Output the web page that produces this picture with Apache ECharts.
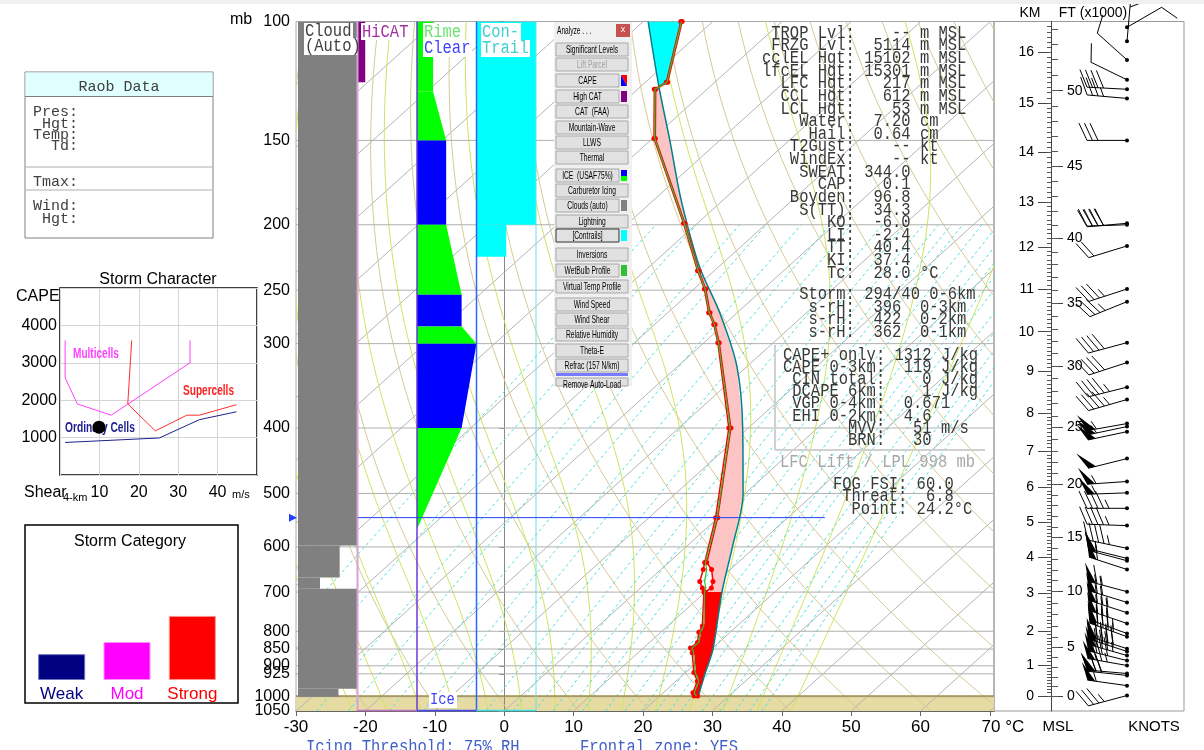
<!DOCTYPE html>
<html>
<head>
<meta charset="utf-8">
<title>Skew-T</title>
<script src="https://cdn.jsdelivr.net/npm/echarts@6.0.0/dist/echarts.min.js"></script>
<style>
  html, body { margin: 0; padding: 0; background: #fff; }
  #chart { width: 1204px; height: 750px; }
</style>
</head>
<body>
<div id="chart"></div>
<script>
const LN = Math.log;
const MONO = '"Liberation Mono", "DejaVu Sans Mono", monospace';
const SANS = '"Liberation Sans", Arial, sans-serif';

// axis labels
const presLabels = [100, 150, 200, 250, 300, 400, 500, 600, 700, 800, 850, 900, 925, 1000];
const bottomPresLabel = 1050;
const isobarP = [150, 200, 250, 300, 400, 500, 600, 700, 800, 850, 900, 925, 1000];
const tempTicks = [-30, -20, -10, 0, 10, 20, 30, 40, 50, 60, 70];

// sounding (mb / degC)
const sndP  = [998, 987, 949, 921, 861, 847, 831, 803, 786, 700, 690, 675, 648, 633, 543, 400, 299, 281, 270, 249, 234, 199, 149, 126, 123, 100];
const sndT  = [25.5, 24.6, 23.5, 21.6, 18.2, 17.2, 17.3, 15.9, 15.4, 10.0, 10.2, 9.4, 7.3, 5.5, -0.1, -12.5, -27.8, -31.3, -33.9, -38.3, -42.2, -51.8, -69.6, -77.4, -76.8, -84.4];
const sndTd = [25.0, 24.3, 23.1, 21.2, 17.8, 16.8, 16.9, 15.5, 15.0, 9.8, 8.9, 7.5, 6.1, 5.2, -0.4, -12.8, -28.0, -31.5, -34.1, -38.5, -42.4, -52.0, -69.8, -77.6, -77.0, -84.6];
const sndTw = [25.3, 24.5, 23.3, 21.4, 18.0, 17.0, 17.1, 15.7, 15.2, 9.9, 9.4, 8.2, 6.6, 5.3, -0.2, -12.6, -27.9, -31.4, -34.0, -38.4, -42.3, -51.9, -69.7, -77.5, -76.9, -84.5];

// lifted parcel
const parcelP = [998, 925, 850, 700, 600, 500, 400, 324, 270, 231, 184, 150, 125, 100];
const parcelT = [25.6, 23.0, 20.2, 12.4, 6.7, -0.3, -10.8, -21.5, -32.5, -42.7, -56.0, -67.2, -77.3, -89.3];
const surfP = 998, lowCapeTop = 700, elP = 126, frzP = 543;

// side columns (mb top / bottom, width fraction)
const cloudTop = [100, 597, 666, 692, 973];
const cloudBot = [597, 666, 692, 973, 1000];
const cloudFrac = [1, 0.7, 0.37, 1, 0.68];
const hicatTop = [100], hicatBot = [123], hicatFrac = [0.13];
const iceTop  = [100, 127, 150, 200, 254, 283, 300, 400];
const iceBot  = [127, 150, 200, 254, 283, 300, 400, 565];
const iceWTop = [0.27, 0.27, 0.49, 0.49, 0.75, 0.75, 1.0, 0.75];
const iceWBot = [0.27, 0.49, 0.49, 0.75, 0.75, 1.0, 0.75, 0.0];
const iceType = ['rime', 'rime', 'clear', 'rime', 'clear', 'rime', 'clear', 'rime'];
const conTop = [100, 200], conBot = [200, 223], conFrac = [1, 0.5];

// winds
const windP   = [996, 963, 930, 924, 899, 884, 869, 857, 849, 815, 806, 779, 751, 725, 699, 648, 629, 624, 603, 558, 526, 499, 480, 444, 405, 398, 394, 363, 348, 320, 299, 260, 249, 215, 200, 199, 150, 130, 126, 122, 114, 107, 102];
const windDir = [255, 278, 276, 275, 280, 284, 286, 288, 288, 290, 290, 289, 288, 287, 285, 288, 285, 284, 282, 272, 270, 268, 266, 256, 258, 258, 260, 254, 256, 252, 255, 248, 252, 253, 268, 265, 270, 275, 273, 296, 312, 5, 60];
const windSpd = [35, 55, 70, 70, 75, 80, 85, 90, 90, 85, 85, 80, 75, 70, 65, 60, 55, 55, 45, 45, 45, 55, 55, 50, 50, 55, 55, 45, 45, 40, 40, 35, 35, 20, 40, 40, 30, 35, 40, 10, 10, 5, 10];

// height scale (km MSL vs mb)
const kmVals = [0, 1, 2, 3, 4, 5, 6, 7, 8, 9, 10, 11, 12, 13, 14, 15, 16];
const kmPres = [997, 897, 800, 703, 622, 552, 490, 433, 380, 330, 288, 249, 216, 185, 156, 132, 111];

// storm character
const multiShear = [1.3, 1.3, 4.4, 13, 33, 33];
const multiCape  = [3600, 2600, 1900, 1600, 3000, 3600];
const superShear = [18.2, 17.2, 24.2, 32.2, 35.4, 44.8];
const superCape  = [3600, 1900, 1180, 1600, 1600, 1880];
const ordShear = [1.3, 25.2, 35.4, 44.8];
const ordCape  = [870, 990, 1480, 1690];
const stormShear = 9.9, stormCape = 1280;

// storm category
const catNames = ['Weak', 'Mod', 'Strong'];
const catValues = [1.0, 1.47, 2.48];

// ---------------------------------------------------------------
const P_BOT = 1050, P_TOP = 100, SKEW = 46.8;
const skewX = (t, p) => t + SKEW * LN(P_BOT / p);
const pt = (t, p) => [skewX(t, p), LN(p)];
const X_MAX = 70.58;

function levels(pHi, pLo, n) {
  const out = [];
  for (let i = 0; i <= n; i++) out.push(Math.exp(LN(pHi) + (LN(pLo) - LN(pHi)) * i / n));
  return out;
}
function lapse(tk, p) {
  const tc = tk - 273.15;
  const e = 6.112 * Math.exp(17.67 * tc / (tc + 243.5));
  const rs = 0.622 * e / (p - e);
  return (287.04 * tk + 2.501e6 * rs) / (1005.7 + 2.501e6 * 2.501e6 * rs * 0.622 / (287.04 * tk * tk));
}
function moistCurve(t0) {
  const up = [pt(t0, 1000)];
  let tk = t0 + 273.15, lp = LN(1000);
  const h = -0.02;
  while (lp > LN(P_TOP)) {
    const k1 = lapse(tk, Math.exp(lp));
    const k2 = lapse(tk + k1 * h / 2, Math.exp(lp + h / 2));
    tk += k2 * h; lp += h;
    up.push(pt(tk - 273.15, Math.exp(lp)));
  }
  const dn = [];
  tk = t0 + 273.15; lp = LN(1000);
  const h2 = (LN(P_BOT) - LN(1000)) / 2;
  for (let i = 0; i < 2; i++) {
    const k1 = lapse(tk, Math.exp(lp));
    const k2 = lapse(tk + k1 * h2 / 2, Math.exp(lp + h2 / 2));
    tk += k2 * h2; lp += h2;
    dn.push(pt(tk - 273.15, Math.exp(lp)));
  }
  return dn.reverse().concat(up);
}
function mixCurve(w) {
  return levels(P_BOT, 200, 24).map(p => {
    const r = w / 1000, e = r * p / (0.622 + r), a = LN(e / 6.112);
    return pt(243.5 * a / (17.67 - a), p);
  });
}

const isotherms = [], dryAd = [], moistAd = [], mixLines = [];
for (let t = -150; t <= 70; t += 10) isotherms.push([pt(t, P_BOT), pt(t, P_TOP)]);
for (let th = 250; th <= 470; th += 10) dryAd.push(levels(P_BOT, P_TOP, 40).map(p => pt(th * Math.pow(p / 1000, 0.2857) - 273.15, p)));
for (let t = -25; t <= 40; t += 5) moistAd.push(moistCurve(t));
[0.1, 0.2, 0.4, 0.6, 1, 1.5, 2, 3, 4, 5, 6, 7, 8, 10, 12, 14, 16, 18, 20, 24, 28, 32, 36, 40].forEach(w => mixLines.push(mixCurve(w)));
const isobarLines = isobarP.map(p => [[-30, LN(p)], [X_MAX, LN(p)]]);

function curveSeries(curves, style, z) {
  return {
    type: 'custom', xAxisIndex: 0, yAxisIndex: 0, z, silent: true, clip: true,
    data: curves.map((c, i) => [i, 0]),
    renderItem: (params, api) => ({
      type: 'polyline',
      shape: { points: curves[params.dataIndex].map(q => api.coord(q)) },
      style: Object.assign({ fill: 'none' }, style)
    })
  };
}

// profile value at pressure (linear in ln p)
function profileAt(pArr, tArr, p) {
  for (let i = 0; i < pArr.length - 1; i++) {
    if (p <= pArr[i] && p >= pArr[i + 1]) {
      const f = (LN(p) - LN(pArr[i])) / (LN(pArr[i + 1]) - LN(pArr[i]));
      return tArr[i] + f * (tArr[i + 1] - tArr[i]);
    }
  }
  return tArr[tArr.length - 1];
}
function segment(pArr, tArr, pHi, pLo) {
  const out = [pt(profileAt(pArr, tArr, pHi), pHi)];
  pArr.forEach((p, i) => { if (p < pHi && p > pLo) out.push(pt(tArr[i], p)); });
  out.push(pt(profileAt(pArr, tArr, pLo), pLo));
  return out;
}
function areaBetween(pHi, pLo) {
  return segment(sndP, sndT, pHi, pLo).concat(segment(parcelP, parcelT, pHi, pLo).reverse());
}
function polySeries(points, fill, z) {
  return {
    type: 'custom', xAxisIndex: 0, yAxisIndex: 0, z, silent: true, clip: true,
    data: [[0, 0]],
    renderItem: (params, api) => ({ type: 'polygon', shape: { points: points.map(q => api.coord(q)) }, style: { fill } })
  };
}
function bandSeries(col, tops, bots, wTop, wBot, colors, z) {
  return {
    type: 'custom', xAxisIndex: 1, yAxisIndex: 1, z, silent: true, clip: true,
    data: tops.map((t, i) => [col, LN(t)]),
    renderItem: (params, api) => {
      const i = params.dataIndex;
      const pts = [[col, LN(tops[i])], [col + wTop[i], LN(tops[i])], [col + wBot[i], LN(bots[i])], [col, LN(bots[i])]].map(q => api.coord(q));
      return { type: 'polygon', shape: { points: pts }, style: { fill: Array.isArray(colors) ? colors[i] : colors } };
    }
  };
}

// height scale helpers
function kmToLn(km) {
  const i = Math.min(Math.floor(km), kmVals.length - 2);
  const f = km - kmVals[i];
  return LN(kmPres[i]) + f * (LN(kmPres[i + 1]) - LN(kmPres[i]));
}
const kmMajorLn = kmVals.map(kmToLn);
const kmMinorLn = [];
for (let k = 0; k <= 165; k++) kmMinorLn.push(kmToLn(k / 10));
const ftMinorLn = [];
for (let f = 0; f <= 54; f++) ftMinorLn.push(kmToLn(f * 0.3048));
const ft5 = [0, 5, 10, 15, 20, 25, 30, 35, 40, 45, 50];
const ft5Ln = ft5.map(f => kmToLn(f * 0.3048));
const lookup = (arr, labels) => v => {
  const i = arr.findIndex(q => Math.abs(q - v) < 1e-6);
  return i < 0 ? '' : String(labels[i]);
};

// ---------------------------------------------------------------
// graphic (panels, text)
const G = [];
function txt(x, y, s, font, fill, align, sx, z) {
  G.push({ type: 'text', x, y, scaleX: sx || 1, z: z || 101, silent: true,
    style: { text: s, font, fill, textAlign: align || 'left', textVerticalAlign: 'middle' } });
}
function rect(x, y, w, h, fill, stroke, lw, z) {
  G.push({ type: 'rect', z: z || 100, silent: true, shape: { x, y, width: w, height: h },
    style: { fill: fill || 'none', stroke: stroke || 'none', lineWidth: lw || 1 } });
}
function seg(x1, y1, x2, y2, stroke, lw, z) {
  G.push({ type: 'line', z: z || 100, silent: true, shape: { x1, y1, x2, y2 }, style: { stroke, lineWidth: lw || 1 } });
}
function poly(points, fill, z) {
  G.push({ type: 'polygon', z: z || 100, silent: true, shape: { points }, style: { fill } });
}

rect(0, 0, 1204, 4, '#f0f0f0', null, 1, 90);

// Raob data box
rect(25, 72, 188, 166, '#fff', '#808080', 1, 99);
rect(25.5, 72.5, 187, 24, '#e0ffff', null, 1, 99);
seg(25, 96.5, 213, 96.5, '#808080', 1);
seg(26, 167, 212, 167, '#c8c8c8', 1.5);
seg(26, 190, 212, 190, '#c8c8c8', 1.5);
const raobFont = '15px ' + MONO;
txt(119, 87, 'Raob Data', raobFont, '#404040', 'center');
[['Pres:', 112], [' Hgt:', 124], ['Temp:', 135], ['  Td:', 146], ['Tmax:', 182], ['Wind:', 206], [' Hgt:', 219]]
  .forEach(([s, y]) => txt(33, y, s, raobFont, '#404040'));

// storm character labels
txt(158, 280, 'Storm Character', '16px ' + SANS, '#000', 'center');
txt(16, 297, 'CAPE', '16px ' + SANS, '#000');
txt(24, 493, 'Shear', '16px ' + SANS, '#000');
txt(63, 498, '4-km', '11px ' + SANS, '#000');
txt(232, 495, 'm/s', '11px ' + SANS, '#000');
txt(73, 354, 'Multicells', 'bold 14px ' + SANS, '#ff40ff', 'left', 0.72, 2);
txt(183, 391, 'Supercells', 'bold 14px ' + SANS, '#ff2020', 'left', 0.72, 2);
txt(65, 428, 'Ordinary Cells', 'bold 14px ' + SANS, '#202090', 'left', 0.73, 2);

// storm category box
rect(25, 525, 213, 178, 'none', '#000', 1.5, 99);
txt(130, 542, 'Storm Category', '16px ' + SANS, '#000', 'center');

// main diagram headings
txt(241, 20, 'mb', '16px ' + SANS, '#000', 'center');
txt(290, 711, String(bottomPresLabel), '16px ' + SANS, '#000', 'right');
const colFont = '18px ' + MONO;
rect(304, 23, 49, 15, '#fff', null, 1, 100);
rect(304, 38, 53, 17, '#fff', null, 1, 100);
txt(305, 31, 'Cloud', colFont, '#404040', 'left', 0.86);
txt(305, 46, '(Auto)', colFont, '#404040', 'left', 0.86);
rect(361, 23, 50, 17, '#fff', null, 1, 100);
txt(362, 32, 'HiCAT', colFont, '#a030a0', 'left', 0.86);
rect(423, 23, 40, 17, '#fff', null, 1, 100);
rect(423, 40, 49, 17, '#fff', null, 1, 100);
txt(424, 32, 'Rime', colFont, '#70e070', 'left', 0.86);
txt(424, 48, 'Clear', colFont, '#4040ff', 'left', 0.86);
rect(481, 23, 40, 17, '#fff', null, 1, 100);
rect(481, 40, 49, 17, '#fff', null, 1, 100);
txt(482, 32, 'Con-', colFont, '#40d0d0', 'left', 0.86);
txt(482, 48, 'Trail', colFont, '#40d0d0', 'left', 0.86);
rect(429, 692, 28, 16, '#fff', null, 1, 100);
txt(430, 700, 'Ice', '16px ' + MONO, '#4040ff', 'left', 0.86);

// analyze panel
rect(554, 22, 78, 364, '#f0f0f0', null, 1, 98);
txt(557, 31, 'Analyze . . .', '11px ' + SANS, '#000', 'left', 0.6);
rect(616, 24, 14, 13, '#c75050', null, 1, 99);
txt(623, 30, 'x', '9px ' + SANS, '#fff', 'center');
const buttons = [
  ['Significant Levels', 43], ['Lift Parcel', 58, null, true], ['CAPE', 74, 'cape'], ['High CAT', 90, '#800080'],
  ['CAT  (FAA)', 105], ['Mountain-Wave', 121], ['LLWS', 136], ['Thermal', 151], ['ICE  (USAF75%)', 169, 'ice'],
  ['Carburetor Icing', 184], ['Clouds (auto)', 199, '#808080'], ['Lightning', 215], ['[Contrails]', 229, '#00ffff', false, true],
  ['Inversions', 248], ['WetBulb Profile', 264, '#30c030'], ['Virtual Temp Profile', 280], ['Wind Speed', 298],
  ['Wind Shear', 313], ['Relative Humidity', 328], ['Theta-E', 344], ['Refrac (157 N/km)', 359]
];
buttons.forEach(([label, y, sw, dis, pressed]) => {
  const w = sw ? 63 : 72;
  rect(556, y, w, 13, '#e1e1e1', pressed ? '#303030' : '#a8a8a8', 1, 99);
  txt(556 + w / 2, y + 6.5, label, '11px ' + SANS, dis ? '#a0a0a0' : '#000', 'center', 0.61);
  if (sw === 'cape') {
    poly([[621, y + 1], [627, y + 1], [627, y + 12]], '#ff0000', 99);
    poly([[621, y + 1], [627, y + 12], [621, y + 12]], '#0000ff', 99);
  } else if (sw === 'ice') {
    rect(621, y + 1, 6, 6, '#0000ff', null, 1, 99);
    rect(621, y + 7, 6, 5, '#00ff00', null, 1, 99);
  } else if (sw) {
    rect(621, y + 1, 6, 11, sw, null, 1, 99);
  }
});
rect(556, 373, 72, 3, '#7a7aff', null, 1, 99);
rect(556, 378, 72, 8, '#e1e1e1', '#a8a8a8', 1, 99);
txt(592, 385, 'Remove Auto-Load', '11px ' + SANS, '#000', 'center', 0.61);

// index text block
const blockFont = '18px ' + MONO, blockFill = '#383838';
const block1 = [
  ['TROP Lvl', '--', 'm MSL'], ['FRZG Lvl', '5114', 'm MSL'], ['cclEL Hgt', '15102', 'm MSL'], ['lfcEL Hgt', '15301', 'm MSL'],
  ['LFC Hgt', '217', 'm MSL'], ['CCL Hgt', '612', 'm MSL'], ['LCL Hgt', '53', 'm MSL'], ['Water', '7.20', 'cm'],
  ['Hail', '0.64', 'cm'], ['T2Gust', '--', 'kt'], ['WindEx', '--', 'kt'], ['SWEAT', '344.0', ''], ['CAP', '0.1', ''],
  ['Boyden', '96.8', ''], ['S(TT)', '34.3', ''], ['KO', '-6.0', ''], ['LI', '-2.4', ''], ['TT', '40.4', ''],
  ['KI', '37.4', ''], ['Tc', '28.0', '°C']
];
block1.forEach(([l, v, u], i) => txt(762, 33 + i * 12.63, l.padStart(9) + ': ' + v.padStart(5) + (u ? ' ' + u : ''), blockFont, blockFill, 'left', 0.86));
const block2 = [['Storm', '294/40 0-6km'], ['s-rH', ' 396  0-3km'], ['s-rH', ' 422  0-2km'], ['s-rH', ' 362  0-1km']];
block2.forEach(([l, v], i) => txt(762, 294 + i * 12.8, l.padStart(9) + ': ' + v, blockFont, blockFill, 'left', 0.86));
seg(775, 345, 775, 450, '#d0d0d0', 2);
seg(775, 450, 985, 450, '#d0d0d0', 2);
const block3 = [['CAPE+ only', '1312', 'J/kg'], ['CAPE 0-3km', '119', 'J/kg'], ['CIN total', '0', 'J/kg'], ['DCAPE 6km', '1', 'J/kg'],
  ['VGP 0-4km', ' 0.671', ''], ['EHI 0-2km', ' 4.6', ''], ['MVV', '51', 'm/s'], ['BRN', '30', '']];
block3.forEach(([l, v, u], i) => txt(783, 355 + i * 12.15, l.padStart(10) + ': ' + v.padStart(4) + (u ? ' ' + u : ''), blockFont, blockFill, 'left', 0.86));
txt(780, 462, 'LFC Lift / LPL 998 mb', blockFont, '#a8a8a8', 'left', 0.86);
const block4 = [['FOG FSI', '60.0'], ['Threat', ' 6.8'], ['Point', '24.2°C']];
block4.forEach(([l, v], i) => txt(833, 484 + i * 12.5, l.padStart(7) + ': ' + v, blockFont, blockFill, 'left', 0.86));

// height panel headings
txt(1030, 13, 'KM', '14px ' + SANS, '#000', 'center');
txt(1093, 13, 'FT (x1000)', '14px ' + SANS, '#000', 'center');
txt(1058, 727, 'MSL', '15px ' + SANS, '#000', 'center');
txt(1154, 727, 'KNOTS', '15px ' + SANS, '#000', 'center');

// bottom lines (cut off by the window edge)
txt(306, 747, 'Icing Threshold: 75% RH', blockFont, '#4060c8', 'left', 0.86);
txt(580, 747, 'Frontal zone: YES', blockFont, '#4060c8', 'left', 0.86);

// ---------------------------------------------------------------
const lnAxis = (grid, extra) => Object.assign({
  gridIndex: grid, type: 'value', inverse: true, min: LN(P_TOP), max: LN(P_BOT), splitLine: { show: false }
}, extra);

const option = {
  animation: false,
  backgroundColor: '#fff',
  textStyle: { fontFamily: SANS },
  grid: [
    { left: 296, top: 21.5, width: 698, height: 689.5, show: true, borderColor: '#a8a8a8', borderWidth: 1 },
    { left: 298, top: 21.5, width: 238, height: 689.5, show: false },
    { left: 994, top: 21.5, width: 190, height: 689.5, show: true, borderColor: '#999', borderWidth: 1 },
    { left: 60, top: 288, width: 197, height: 187, show: true, borderColor: '#000', borderWidth: 1.5 },
    { left: 29, top: 525, width: 196, height: 155, show: false }
  ],
  xAxis: [
    { gridIndex: 0, type: 'value', min: -30, max: X_MAX, splitLine: { show: false },
      axisLine: { show: true, lineStyle: { color: '#666' } },
      axisTick: { customValues: tempTicks, length: 5, lineStyle: { color: '#666' } },
      axisLabel: { customValues: tempTicks, fontSize: 17, color: '#000', margin: 8, showMinLabel: true, showMaxLabel: true,
        formatter: v => v === 70 ? '{u|70 °C}' : String(v),
        rich: { u: { fontSize: 17, color: '#000', padding: [0, 0, 0, 26] } } } },
    { gridIndex: 1, type: 'value', min: 0, max: 4, show: false },
    { gridIndex: 2, type: 'value', min: 0, max: 1, show: false },
    { gridIndex: 3, type: 'value', min: 0, max: 50, interval: 10,
      axisLine: { show: false }, axisTick: { show: false },
      axisLabel: { customValues: [10, 20, 30, 40], fontSize: 16, color: '#000', margin: 10, formatter: v => String(v) },
      splitLine: { show: true, lineStyle: { color: '#d4d4d4' } } },
    { gridIndex: 4, type: 'category', data: catNames,
      axisLine: { show: false }, axisTick: { show: false },
      axisLabel: { interval: 0, fontSize: 17, margin: 6, formatter: v => '{' + v + '|' + v + '}',
        rich: { Weak: { color: '#000080', fontSize: 17 }, Mod: { color: '#ff00ff', fontSize: 17 }, Strong: { color: '#ff0000', fontSize: 17 } } } }
  ],
  yAxis: [
    lnAxis(0, { axisLine: { show: true, lineStyle: { color: '#888' } },
      axisTick: { customValues: presLabels.concat([bottomPresLabel]).map(LN), length: 5, lineStyle: { color: '#888' } },
      axisLabel: { customValues: presLabels.map(LN), fontSize: 16, color: '#000', margin: 6, showMinLabel: true, showMaxLabel: true,
        formatter: v => String(Math.round(Math.exp(v))) } }),
    lnAxis(1, { show: false }),
    lnAxis(2, { position: 'left', offset: -57, axisLine: { show: true, lineStyle: { color: '#444' } },
      axisTick: { customValues: kmMajorLn, length: 13, lineStyle: { color: '#444' } },
      axisLabel: { customValues: kmMajorLn, formatter: lookup(kmMajorLn, kmVals), fontSize: 14, color: '#000', margin: 17 } }),
    lnAxis(2, { position: 'left', offset: -57, axisLine: { show: false },
      axisTick: { customValues: kmMinorLn, length: 4, lineStyle: { color: '#555' } }, axisLabel: { show: false } }),
    lnAxis(2, { position: 'right', offset: -133, axisLine: { show: false },
      axisTick: { customValues: ft5Ln, length: 12, lineStyle: { color: '#444' } },
      axisLabel: { customValues: ft5Ln, formatter: lookup(ft5Ln, ft5), fontSize: 14, color: '#000', margin: 16 } }),
    lnAxis(2, { position: 'right', offset: -133, axisLine: { show: false },
      axisTick: { customValues: ftMinorLn, length: 7, lineStyle: { color: '#555' } }, axisLabel: { show: false } }),
    { gridIndex: 3, type: 'value', min: 0, max: 5000, interval: 1000,
      axisLine: { show: false }, axisTick: { show: false },
      axisLabel: { customValues: [1000, 2000, 3000, 4000], fontSize: 16, color: '#000', margin: 3, formatter: v => String(v) },
      splitLine: { show: true, lineStyle: { color: '#d4d4d4' } } },
    { gridIndex: 4, type: 'value', min: 0, max: 6, show: false }
  ],
  series: [
    // ground
    polySeries([[-30, LN(surfP)], [X_MAX, LN(surfP)], [X_MAX, LN(P_BOT)], [-30, LN(P_BOT)]], '#e6dba2', 0),
    curveSeries(isotherms, { stroke: '#b4b4b4', lineWidth: 1 }, 1),
    curveSeries(dryAd, { stroke: '#d8c995', lineWidth: 1 }, 1),
    curveSeries(moistAd, { stroke: '#cde45c', lineWidth: 1 }, 1),
    curveSeries(mixLines, { stroke: '#4fdede', lineWidth: 1, lineDash: [3, 3] }, 1),
    curveSeries(isobarLines, { stroke: '#b0b0b0', lineWidth: 1 }, 1),
    {
      type: 'custom', xAxisIndex: 0, yAxisIndex: 0, z: 1, silent: true, clip: true, data: [[0, 0]],
      renderItem: (params, api) => {
        const a = api.coord([-30, LN(surfP)]), b = api.coord([X_MAX, LN(surfP)]);
        return { type: 'line', shape: { x1: a[0], y1: a[1], x2: b[0], y2: b[1] }, style: { stroke: '#a08f4c', lineWidth: 1.5 } };
      }
    },
    // side columns
    bandSeries(0, cloudTop, cloudBot, cloudFrac, cloudFrac, '#808080', 3),
    bandSeries(1, hicatTop, hicatBot, hicatFrac, hicatFrac, '#800080', 3),
    bandSeries(2, iceTop, iceBot, iceWTop, iceWBot, iceType.map(t => t === 'rime' ? '#00ff00' : '#0000ff'), 3),
    bandSeries(3, conTop, conBot, conFrac, conFrac, '#00ffff', 3),
    {
      type: 'custom', xAxisIndex: 1, yAxisIndex: 1, z: 4, silent: true, data: [[0, 0]],
      renderItem: (params, api) => {
        const v = (c, col, w) => { const a = api.coord([c, LN(P_TOP)]), b = api.coord([c, LN(P_BOT)]);
          return { type: 'line', shape: { x1: a[0], y1: a[1], x2: b[0], y2: b[1] }, style: { stroke: col, lineWidth: w } }; };
        const h = (c1, c2, col) => { const a = api.coord([c1, LN(P_BOT)]), b = api.coord([c2, LN(P_BOT)]);
          return { type: 'line', shape: { x1: a[0], y1: a[1] - 0.5, x2: b[0], y2: b[1] - 0.5 }, style: { stroke: col, lineWidth: 1.5 } }; };
        return { type: 'group', children: [
          v(1, '#d4a4d4', 2), v(2, '#6a38d8', 1.5), v(3, '#2868ff', 1.5), v(4, '#70e0e0', 1),
          h(1, 2, '#c070c0'), h(2, 3, '#4848ff'), h(3, 4, '#40e0e0')
        ] };
      }
    },
    // CAPE shading
    polySeries(areaBetween(surfP, lowCapeTop), '#ff0000', 4),
    polySeries(areaBetween(lowCapeTop, elP), '#fcc4c4', 4),
    polySeries(segment(parcelP, parcelT, elP, P_TOP).concat(segment(sndP, sndT, elP, P_TOP).reverse()), '#00ffff', 4),
    // profiles
    { type: 'line', xAxisIndex: 0, yAxisIndex: 0, z: 5, silent: true, smooth: 0.3, showSymbol: false,
      data: parcelP.map((p, i) => pt(parcelT[i], p)), lineStyle: { color: '#00808a', width: 1.5 } },
    { type: 'line', xAxisIndex: 0, yAxisIndex: 0, z: 6, silent: true, symbol: 'circle', symbolSize: 5,
      data: sndP.map((p, i) => pt(sndTd[i], p)), lineStyle: { color: '#ff0000', width: 1.5 }, itemStyle: { color: '#ff0000' } },
    { type: 'line', xAxisIndex: 0, yAxisIndex: 0, z: 6, silent: true, symbol: 'circle', symbolSize: 5,
      data: sndP.map((p, i) => pt(sndT[i], p)), lineStyle: { color: '#ff0000', width: 1.5 }, itemStyle: { color: '#ff0000' } },
    { type: 'line', xAxisIndex: 0, yAxisIndex: 0, z: 7, silent: true, showSymbol: false,
      data: sndP.map((p, i) => pt(sndTw[i], p)), lineStyle: { color: '#30c030', width: 1.2 } },
    // freezing level
    {
      type: 'custom', xAxisIndex: 0, yAxisIndex: 0, z: 8, silent: true, clip: false, data: [[0, LN(frzP)]],
      renderItem: (params, api) => {
        const a = api.coord([-21.1, LN(frzP)]), b = api.coord([46.2, LN(frzP)]), l = api.coord([-30, LN(frzP)]);
        return { type: 'group', children: [
          { type: 'line', shape: { x1: a[0], y1: a[1], x2: b[0], y2: b[1] }, style: { stroke: '#2040ff', lineWidth: 1 } },
          { type: 'polygon', shape: { points: [[l[0] - 7, l[1] - 4], [l[0] + 1, l[1]], [l[0] - 7, l[1] + 4]] }, style: { fill: '#2040ff' } }
        ] };
      }
    },
    // wind barbs
    {
      type: 'custom', xAxisIndex: 2, yAxisIndex: 2, z: 8, silent: true, clip: false,
      data: windP.map(p => [0.7, LN(p)]),
      renderItem: (params, api) => {
        const i = params.dataIndex;
        const c = api.coord([api.value(0), api.value(1)]);
        const a = windDir[i] * Math.PI / 180, fa = (windDir[i] + 65) * Math.PI / 180;
        const ux = Math.sin(a), uy = -Math.cos(a), fx = Math.sin(fa), fy = -Math.cos(fa);
        const L = 40, FL = 19;
        const tail = [c[0] + ux * L, c[1] + uy * L];
        const at = d => [tail[0] - ux * d, tail[1] - uy * d];
        const kids = [
          { type: 'line', shape: { x1: c[0], y1: c[1], x2: tail[0], y2: tail[1] }, style: { stroke: '#000', lineWidth: 1 } },
          { type: 'circle', shape: { cx: c[0], cy: c[1], r: 2 }, style: { fill: '#000' } }
        ];
        let s = Math.round(windSpd[i] / 5) * 5, d = 0;
        while (s >= 50) {
          const p1 = at(d), p2 = at(d + 8);
          kids.push({ type: 'polygon', shape: { points: [p1, [p1[0] + fx * FL, p1[1] + fy * FL], p2] }, style: { fill: '#000' } });
          d += 9; s -= 50;
        }
        while (s >= 10) {
          const p1 = at(d);
          kids.push({ type: 'line', shape: { x1: p1[0], y1: p1[1], x2: p1[0] + fx * FL, y2: p1[1] + fy * FL }, style: { stroke: '#000', lineWidth: 1 } });
          d += 5.5; s -= 10;
        }
        if (s >= 5) {
          if (d === 0) d = 5.5;
          const p1 = at(d);
          kids.push({ type: 'line', shape: { x1: p1[0], y1: p1[1], x2: p1[0] + fx * FL / 2, y2: p1[1] + fy * FL / 2 }, style: { stroke: '#000', lineWidth: 1 } });
        }
        return { type: 'group', children: kids };
      }
    },
    // storm character
    { type: 'line', xAxisIndex: 3, yAxisIndex: 6, silent: true, showSymbol: false,
      data: multiShear.map((x, i) => [x, multiCape[i]]), lineStyle: { color: '#ff40ff', width: 1 } },
    { type: 'line', xAxisIndex: 3, yAxisIndex: 6, silent: true, showSymbol: false,
      data: superShear.map((x, i) => [x, superCape[i]]), lineStyle: { color: '#ff3030', width: 1 } },
    { type: 'line', xAxisIndex: 3, yAxisIndex: 6, silent: true, showSymbol: false,
      data: ordShear.map((x, i) => [x, ordCape[i]]), lineStyle: { color: '#202090', width: 1 } },
    { type: 'scatter', xAxisIndex: 3, yAxisIndex: 6, silent: true, z: 10, symbolSize: 13,
      data: [[stormShear, stormCape]], itemStyle: { color: '#000', opacity: 1 } },
    // storm category
    { type: 'bar', xAxisIndex: 4, yAxisIndex: 7, silent: true, barWidth: 47,
      data: catValues.map((v, i) => ({ value: v, itemStyle: {
        color: ['#000080', '#ff00ff', '#ff0000'][i], borderColor: ['#7070c0', '#ff90ff', '#ff9090'][i], borderWidth: 1 } })) }
  ],
  graphic: { elements: G }
};

const chart = echarts.init(document.getElementById('chart'));
chart.setOption(option);
window.addEventListener('resize', () => chart.resize());
</script>
</body>
</html>
